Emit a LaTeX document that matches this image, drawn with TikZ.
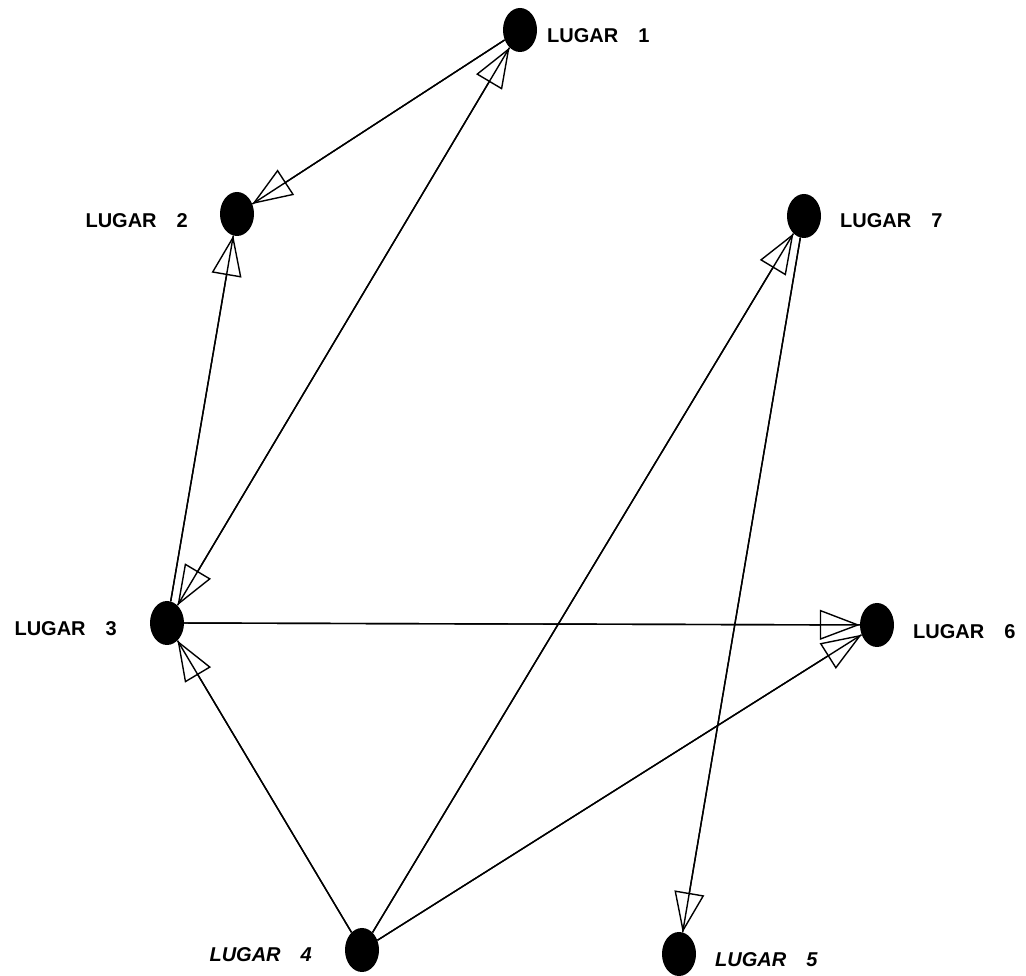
\documentclass[tikz,border=0pt]{standalone}
\usepackage{fontspec}
\setmainfont{Liberation Sans}
\usetikzlibrary{shapes.geometric,arrows.meta}
\tikzset{
  place/.style={ellipse, fill=black, draw=none, minimum width=34pt, minimum height=44pt, inner sep=0pt},
  lbl/.style={inner sep=0pt, font=\fontsize{20pt}{24pt}\selectfont\bfseries},
  wire/.style={line width=1.4pt},
  arr/.style={line width=1.4pt, -{Triangle[open, length=40pt, width=30pt]}},
  barr/.style={line width=1.4pt, {Triangle[open, length=40pt, width=30pt]}-{Triangle[open, length=40pt, width=30pt]}}
}
\begin{document}
\begin{tikzpicture}[x=1pt,y=1pt]
\useasboundingbox (0,0) rectangle (1026,976);
\fill[white] (0,0) rectangle (1026,976);
% places (y = 976 - pixel row)
\node[place] (p1) at (520,946) {};
\node[place] (p2) at (237,762) {};
\node[place] (p7) at (804,760) {};
\node[place] (p3) at (167,353) {};
\node[place] (p6) at (877,351) {};
\node[place] (p4) at (362,26) {};
\node[place] (p5) at (679,22) {};
% labels
\node[lbl, anchor=west] (l1) at (547,940) {LUGAR\hspace{20pt}1};
\node[lbl, anchor=east] (l2) at (188,755) {LUGAR\hspace{20pt}2};
\node[lbl, anchor=west] (l7) at (840,755) {LUGAR\hspace{20pt}7};
\node[lbl, anchor=east] (l3) at (117,347) {LUGAR\hspace{20pt}3};
\node[lbl, anchor=west] (l6) at (913,344) {LUGAR\hspace{20pt}6};
\node[lbl, anchor=east] (l4) at (312,21) {\itshape LUGAR\hspace{20pt}4};
\node[lbl, anchor=west] (l5) at (715,16) {\itshape LUGAR\hspace{20pt}5};
% connectors: full line, then arrowed copy
\draw[wire] (p1) -- (p2);  \draw[arr] (p1) -- (p2);
\draw[wire] (p1) -- (p3);  \draw[barr] (p1) -- (p3);
\draw[wire] (p3) -- (p2);  \draw[arr] (p3) -- (p2);
\draw[wire] (p3) -- (p6);  \draw[arr] (p3) -- (p6);
\draw[wire] (p4) -- (p3);  \draw[arr] (p4) -- (p3);
\draw[wire] (p4) -- (p7);  \draw[arr] (p4) -- (p7);
\draw[wire] (p4) -- (p6);  \draw[arr] (p4) -- (p6);
\draw[wire] (p7) -- (p5);  \draw[arr] (p7) -- (p5);
\end{tikzpicture}
\end{document}
